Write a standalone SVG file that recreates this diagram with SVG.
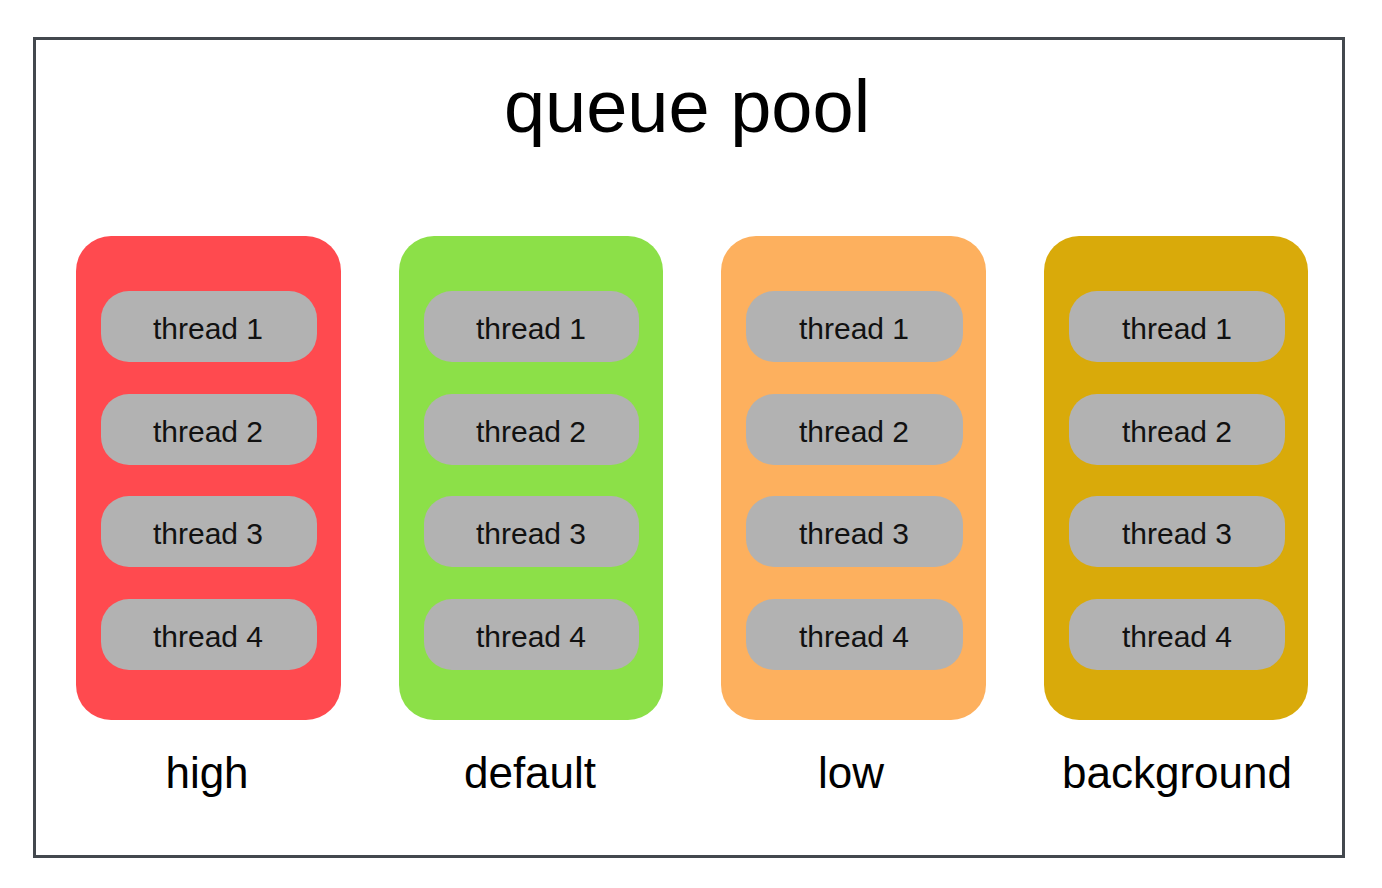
<svg xmlns="http://www.w3.org/2000/svg" width="1382" height="888" viewBox="0 0 1382 888">
<style>
.frame{fill:#ffffff;stroke:#43484e;stroke-width:3}
.pill{fill:#b2b2b2}
.t{font-family:"Liberation Sans",Arial,sans-serif;fill:#000;text-anchor:middle}
.pt{font-size:30px;fill:#111}
.lbl{font-size:44px}
.title{font-size:74px}
</style>
<rect width="1382" height="888" fill="#ffffff"/>
<rect class="frame" x="34.5" y="38.5" width="1309" height="818"/>
<text class="t title" x="687" y="132">queue pool</text>
<g id="high">
<rect x="76" y="236" width="265" height="484" rx="35" fill="#ff4a4f"/>
<rect class="pill" x="101" y="291" width="216" height="71" rx="28"/>
<rect class="pill" x="101" y="394" width="216" height="71" rx="28"/>
<rect class="pill" x="101" y="496" width="216" height="71" rx="28"/>
<rect class="pill" x="101" y="599" width="216" height="71" rx="28"/>
<text class="t pt" x="208" y="339">thread 1</text>
<text class="t pt" x="208" y="442">thread 2</text>
<text class="t pt" x="208" y="544">thread 3</text>
<text class="t pt" x="208" y="647">thread 4</text>
<text class="t lbl" x="207" y="788">high</text>
</g>
<g id="default">
<rect x="399" y="236" width="264" height="484" rx="35" fill="#8ce048"/>
<rect class="pill" x="424" y="291" width="215" height="71" rx="28"/>
<rect class="pill" x="424" y="394" width="215" height="71" rx="28"/>
<rect class="pill" x="424" y="496" width="215" height="71" rx="28"/>
<rect class="pill" x="424" y="599" width="215" height="71" rx="28"/>
<text class="t pt" x="531" y="339">thread 1</text>
<text class="t pt" x="531" y="442">thread 2</text>
<text class="t pt" x="531" y="544">thread 3</text>
<text class="t pt" x="531" y="647">thread 4</text>
<text class="t lbl" x="530" y="788">default</text>
</g>
<g id="low">
<rect x="721" y="236" width="265" height="484" rx="35" fill="#fdb05e"/>
<rect class="pill" x="746" y="291" width="217" height="71" rx="28"/>
<rect class="pill" x="746" y="394" width="217" height="71" rx="28"/>
<rect class="pill" x="746" y="496" width="217" height="71" rx="28"/>
<rect class="pill" x="746" y="599" width="217" height="71" rx="28"/>
<text class="t pt" x="854" y="339">thread 1</text>
<text class="t pt" x="854" y="442">thread 2</text>
<text class="t pt" x="854" y="544">thread 3</text>
<text class="t pt" x="854" y="647">thread 4</text>
<text class="t lbl" x="851" y="788">low</text>
</g>
<g id="background">
<rect x="1044" y="236" width="264" height="484" rx="35" fill="#d9aa0a"/>
<rect class="pill" x="1069" y="291" width="216" height="71" rx="28"/>
<rect class="pill" x="1069" y="394" width="216" height="71" rx="28"/>
<rect class="pill" x="1069" y="496" width="216" height="71" rx="28"/>
<rect class="pill" x="1069" y="599" width="216" height="71" rx="28"/>
<text class="t pt" x="1177" y="339">thread 1</text>
<text class="t pt" x="1177" y="442">thread 2</text>
<text class="t pt" x="1177" y="544">thread 3</text>
<text class="t pt" x="1177" y="647">thread 4</text>
<text class="t lbl" x="1177" y="788">background</text>
</g>
<g id="connectors"></g>
</svg>
